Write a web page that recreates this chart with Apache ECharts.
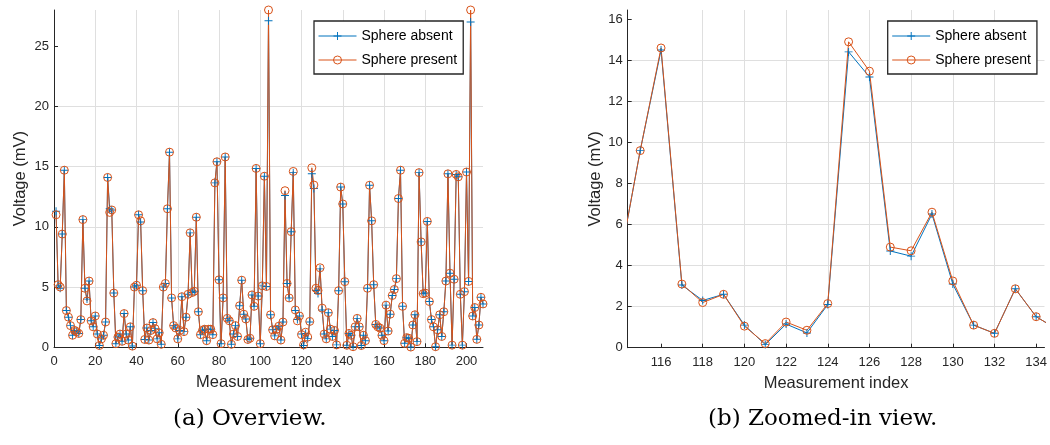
<!DOCTYPE html>
<html><head><meta charset="utf-8">
<script src="https://cdn.jsdelivr.net/npm/echarts@6/dist/echarts.min.js"></script>
<style>html,body{margin:0;padding:0;background:#fff}#c{width:1050px;height:445px}</style>
</head><body><div id="c"></div>
<script>
// Measurement values (mV), index 1..208
const absent = [
11.3,5.1,4.9,9.4,14.7,3.05,2.5,1.8,1.0,1.4,
1.3,1.15,2.3,10.6,4.9,4.0,5.5,2.2,1.7,2.6,
1.1,0.15,0.7,1.0,2.1,14.1,11.5,11.4,4.5,0.3,
0.85,1.1,0.5,2.8,1.1,0.6,1.7,0.1,5.0,5.15,
11.0,10.4,4.7,0.65,1.6,0.6,1.4,2.05,1.55,0.7,
1.2,0.25,5.0,5.3,11.5,16.2,4.1,1.8,1.6,0.7,
1.4,4.2,1.3,2.5,4.4,9.5,4.55,4.65,10.8,2.95,
1.05,1.4,1.5,0.55,1.5,1.5,1.05,13.65,15.4,5.6,
0.3,4.1,15.8,2.4,2.2,0.25,1.1,1.8,0.9,3.45,
5.57,2.75,2.35,0.65,0.75,4.35,3.4,14.85,4.25,0.3,
5.1,14.2,5.05,27.1,2.7,1.45,0.95,1.5,1.75,0.6,
2.1,12.6,5.3,4.1,9.6,14.5,3.05,2.3,2.6,1.1,
0.15,1.15,0.72,2.1,14.41,13.19,4.71,4.46,6.51,3.1,
1.1,0.7,2.87,1.51,0.9,1.4,0.2,4.7,13.3,11.9,
5.45,0.17,1.15,1.0,0.05,1.7,2.4,1.7,0.15,1.0,
0.55,4.9,13.45,10.5,5.2,1.9,1.7,1.6,1.0,0.55,
3.5,1.35,2.75,4.3,4.8,5.7,12.35,14.7,3.4,0.33,
0.8,0.75,0.02,1.85,2.7,0.47,14.5,8.75,4.45,4.5,
10.45,3.8,2.3,1.7,0.05,1.45,2.7,0.9,2.95,5.5,
14.4,6.15,0.18,5.65,14.35,14.15,4.4,0.18,4.62,14.55,
5.47,27.0,2.6,3.3,0.66,1.85,4.15,3.6
];
const present = [
11.0,5.2,5.0,9.4,14.7,3.05,2.5,1.8,1.0,1.4,
1.3,1.15,2.3,10.6,4.9,3.85,5.5,2.2,1.7,2.6,
1.1,0.15,0.7,1.0,2.1,14.1,11.2,11.4,4.5,0.3,
0.85,1.1,0.5,2.8,1.1,0.6,1.7,0.1,5.0,5.15,
11.0,10.5,4.7,0.65,1.6,0.6,1.4,2.05,1.55,0.7,
1.2,0.25,5.0,5.3,11.5,16.2,4.1,1.8,1.6,0.7,
1.4,4.2,1.3,2.5,4.4,9.5,4.55,4.65,10.8,2.95,
1.05,1.4,1.5,0.55,1.5,1.5,1.05,13.65,15.4,5.6,
0.3,4.1,15.8,2.4,2.2,0.25,1.1,1.8,0.9,3.45,
5.57,2.75,2.35,0.65,0.75,4.35,3.4,14.85,4.25,0.3,
5.1,14.2,5.05,28.0,2.7,1.45,0.95,1.5,1.75,0.6,
2.1,13.0,5.3,4.1,9.6,14.6,3.1,2.2,2.6,1.05,
0.2,1.25,0.85,2.15,14.9,13.47,4.9,4.72,6.6,3.25,
1.1,0.7,2.87,1.51,0.9,1.4,0.2,4.7,13.3,11.9,
5.45,0.17,1.15,1.0,0.05,1.7,2.4,1.7,0.15,1.0,
0.55,4.9,13.45,10.5,5.2,1.9,1.7,1.6,1.0,0.55,
3.5,1.35,2.75,4.3,4.8,5.7,12.35,14.7,3.4,0.33,
0.8,0.75,0.02,1.85,2.7,0.47,14.5,8.75,4.45,4.5,
10.45,3.8,2.3,1.7,0.05,1.45,2.7,0.9,2.95,5.5,
14.4,6.15,0.18,5.65,14.35,14.15,4.4,0.18,4.62,14.55,
5.47,28.0,2.6,3.3,0.66,1.85,4.15,3.6
];
const seriesNames = ['Sphere absent', 'Sphere present'];
const xTicksOverview = [0, 20, 40, 60, 80, 100, 120, 140, 160, 180, 200];
const yTicksOverview = [0, 5, 10, 15, 20, 25];
const xTicksZoom = [116, 118, 120, 122, 124, 126, 128, 130, 132, 134];
const yTicksZoom = [0, 2, 4, 6, 8, 10, 12, 14, 16];
const xLabel = 'Measurement index';
const yLabel = 'Voltage (mV)';
const captions = ['(a) Overview.', '(b) Zoomed-in view.'];

const pairsAbsent = absent.map((v, i) => [i + 1, v]);
const pairsPresent = present.map((v, i) => [i + 1, v]);

const AX = '#262626';
const FONT = 'Liberation Sans';
const BLUE = '#0072BD';
const ORANGE = '#D95319';
const PLUS = 'path://M0,4.4L10,4.4L10,5.6L0,5.6Z M4.4,0L5.6,0L5.6,10L4.4,10Z';

function xAx(gi, min, max, ticks) {
  return {
    type: 'value', gridIndex: gi, min: min, max: max,
    name: xLabel, nameLocation: 'middle', nameGap: 27,
    nameTextStyle: {fontFamily: FONT, fontSize: 16.5, color: AX},
    axisLine: {show: true, onZero: false, lineStyle: {color: AX, width: 1}},
    axisTick: {show: true, inside: true, length: 4, customValues: ticks, lineStyle: {color: AX}},
    axisLabel: {customValues: ticks, margin: 8, fontFamily: FONT, fontSize: 13, color: AX},
    splitLine: {show: true, showMinLine: false, showMaxLine: false, lineStyle: {color: '#dfdfdf', width: 1}}
  };
}
function yAx(gi, min, max, ticks, gap) {
  return {
    type: 'value', gridIndex: gi, min: min, max: max,
    name: yLabel, nameLocation: 'middle', nameGap: gap,
    nameTextStyle: {fontFamily: FONT, fontSize: 16.5, color: AX},
    axisLine: {show: true, onZero: false, lineStyle: {color: AX, width: 1}},
    axisTick: {show: true, inside: true, length: 4, customValues: ticks, lineStyle: {color: AX}},
    axisLabel: {customValues: ticks, margin: 5, fontFamily: FONT, fontSize: 13, color: AX},
    splitLine: {show: true, showMinLine: false, showMaxLine: false, lineStyle: {color: '#dfdfdf', width: 1}}
  };
}
function mkSeries(gi, name, data, color, symbol) {
  const isPlus = symbol === PLUS;
  return {
    type: 'line', name: name, xAxisIndex: gi, yAxisIndex: gi, data: data,
    symbol: symbol, symbolSize: 8, showSymbol: true, showAllSymbol: true,
    clip: true, animation: false, silent: true,
    lineStyle: {color: color, width: 1},
    itemStyle: isPlus ? {color: color, borderWidth: 0}
                      : {color: 'transparent', borderColor: color, borderWidth: 1},
    emphasis: {disabled: true}
  };
}
function legend(left) {
  return {
    left: left, top: 21, orient: 'vertical',
    data: seriesNames,
    backgroundColor: '#fff', borderColor: AX, borderWidth: 1.3,
    padding: [8, 6, 7, 4], itemGap: 10, itemWidth: 38, itemHeight: 10,
    lineStyle: {width: 1},
    itemStyle: {borderWidth: 1},
    textStyle: {fontFamily: FONT, fontSize: 14, color: '#000'},
    selectedMode: false
  };
}

const chart = echarts.init(document.getElementById('c'), null, {renderer: 'canvas'});
chart.setOption({
  animation: false,
  backgroundColor: '#fff',
  grid: [
    {left: 54, top: 10, width: 429, height: 337.3, containLabel: false},
    {left: 627.7, top: 10, width: 422.3, height: 337.7, containLabel: false}
  ],
  xAxis: [xAx(0, 0, 208, xTicksOverview), xAx(1, 114.4, 134.4, xTicksZoom)],
  yAxis: [yAx(0, 0, 28, yTicksOverview, 25), yAx(1, 0, 16.45, yTicksZoom, 23)],
  legend: [legend(314), legend(887.7)],
  series: [
    mkSeries(0, seriesNames[0], pairsAbsent, BLUE, PLUS),
    mkSeries(0, seriesNames[1], pairsPresent, ORANGE, 'circle'),
    mkSeries(1, seriesNames[0], pairsAbsent, BLUE, PLUS),
    mkSeries(1, seriesNames[1], pairsPresent, ORANGE, 'circle')
  ],
  graphic: [
    {type: 'text', left: 173, top: 408, style: {text: captions[0], x: 0, y: 0,
      font: '23px "DejaVu Serif"', fill: '#000'}},
    {type: 'text', left: 708, top: 408, style: {text: captions[1], x: 0, y: 0,
      font: '23px "DejaVu Serif"', fill: '#000'}}
  ]
});
</script></body></html>
